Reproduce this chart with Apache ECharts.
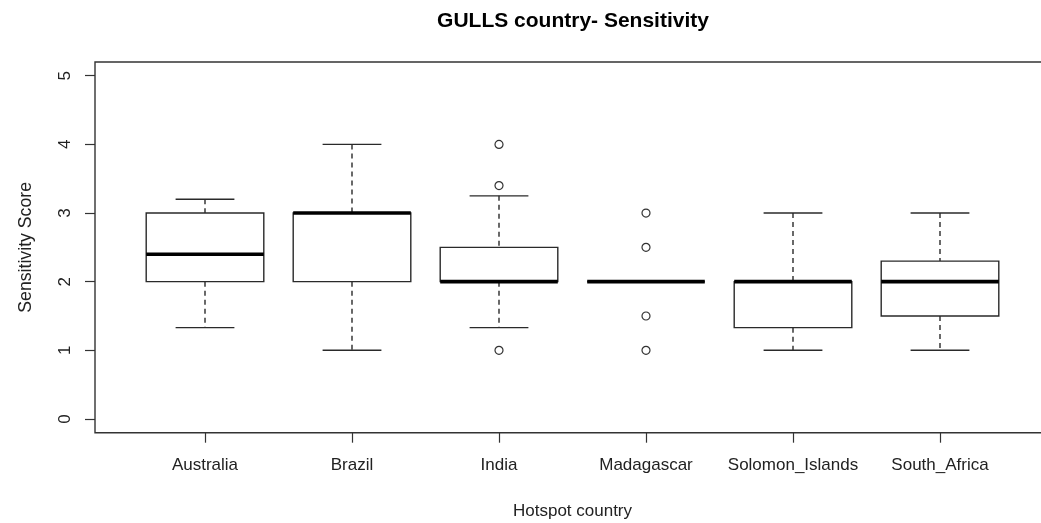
<!DOCTYPE html>
<html>
<head>
<meta charset="utf-8">
<script src="https://cdn.jsdelivr.net/npm/echarts@6/dist/echarts.min.js"></script>
<style>html,body{margin:0;padding:0;background:#fff;}#c{width:1041px;height:523px;}</style>
</head>
<body>
<div id="c"></div>
<script>
const categories = ['Australia', 'Brazil', 'India', 'Madagascar', 'Solomon_Islands', 'South_Africa'];
const lowerWhisker = [1.33, 1, 1.33, 2, 1, 1];
const q1 = [2, 2, 2, 2, 1.33, 1.5];
const median = [2.4, 3, 2, 2, 2, 2];
const q3 = [3, 3, 2.5, 2, 2, 2.3];
const upperWhisker = [3.2, 4, 3.25, 2, 3, 3];
const outlierCategory = ['India', 'India', 'India', 'Madagascar', 'Madagascar', 'Madagascar', 'Madagascar'];
const outlierValue = [4, 3.4, 1, 3, 2.5, 1.5, 1];
const yTicks = [0, 1, 2, 3, 4, 5];

const boxData = categories.map((c, i) => [i, lowerWhisker[i], q1[i], median[i], q3[i], upperWhisker[i]]);
const outlierData = outlierCategory.map((c, i) => [categories.indexOf(c), outlierValue[i]]);

const FONT = 'Liberation Sans, Arial, sans-serif';
const chart = echarts.init(document.getElementById('c'), null, {renderer: 'canvas'});

function renderBox(params, api) {
  const idx = api.value(0);
  const band = api.size([1, 0])[0];
  const hb = band * 0.4, hc = band * 0.2;
  const pLow = api.coord([idx, api.value(1)]);
  const pQ1 = api.coord([idx, api.value(2)]);
  const pMed = api.coord([idx, api.value(3)]);
  const pQ3 = api.coord([idx, api.value(4)]);
  const pHigh = api.coord([idx, api.value(5)]);
  const cx = pMed[0];
  const stroke = '#2a2a2a';
  const lw = 1.4;
  return {
    type: 'group',
    children: [
      {type: 'line', shape: {x1: cx, y1: pHigh[1], x2: cx, y2: pQ3[1]}, style: {stroke, lineWidth: lw, lineDash: [5, 4]}},
      {type: 'line', shape: {x1: cx, y1: pQ1[1], x2: cx, y2: pLow[1]}, style: {stroke, lineWidth: lw, lineDash: [5, 4]}},
      {type: 'line', shape: {x1: cx - hc, y1: pHigh[1], x2: cx + hc, y2: pHigh[1]}, style: {stroke, lineWidth: lw}},
      {type: 'line', shape: {x1: cx - hc, y1: pLow[1], x2: cx + hc, y2: pLow[1]}, style: {stroke, lineWidth: lw}},
      {type: 'rect', shape: {x: cx - hb, y: pQ3[1], width: 2 * hb, height: pQ1[1] - pQ3[1]}, style: {fill: '#fff', stroke, lineWidth: lw}},
      {type: 'line', shape: {x1: cx - hb, y1: pMed[1], x2: cx + hb, y2: pMed[1]}, style: {stroke: '#000', lineWidth: 3.6}}
    ]
  };
}

const option = {
  animation: false,
  backgroundColor: '#fff',
  title: {
    text: 'GULLS country- Sensitivity',
    left: 568, top: 6, textAlign: 'center',
    textStyle: {fontFamily: FONT, fontSize: 21, fontWeight: 'bold', color: '#000'}
  },
  grid: [
    {left: 95, top: 62, width: 954, height: 370.7, show: true, borderColor: '#333', borderWidth: 1.4, backgroundColor: 'transparent', containLabel: false, outerBoundsMode: 'none'},
    {left: 131.5, top: 62, width: 882, height: 370.7, show: false, containLabel: false, outerBoundsMode: 'none'}
  ],
  xAxis: [
    {gridIndex: 0, type: 'value', min: 0, max: 1, show: false},
    {
      gridIndex: 1, type: 'category', data: categories, boundaryGap: true,
      name: 'Hotspot country', nameLocation: 'middle', nameGap: 70,
      nameTextStyle: {fontFamily: FONT, fontSize: 17, color: '#222'},
      axisLine: {show: false, onZero: false},
      axisTick: {show: true, alignWithLabel: true, length: 10, lineStyle: {color: '#333', width: 1.2}},
      axisLabel: {fontFamily: FONT, fontSize: 17, color: '#222', margin: 24, interval: 0},
      splitLine: {show: false}
    }
  ],
  yAxis: [
    {gridIndex: 0, type: 'value', min: 0, max: 1, show: false},
    {
      gridIndex: 1, type: 'value', min: -0.2, max: 5.2,
      offset: 36.5,
      name: 'Sensitivity Score', nameLocation: 'middle', nameGap: 60,
      nameTextStyle: {fontFamily: FONT, fontSize: 17.7, color: '#222'},
      axisLine: {show: false, onZero: false},
      axisTick: {show: true, length: 10, customValues: yTicks, lineStyle: {color: '#333', width: 1.2}},
      axisLabel: {fontFamily: FONT, fontSize: 17, color: '#222', rotate: 90, margin: 21, customValues: yTicks},
      splitLine: {show: false}
    }
  ],
  series: [
    {
      type: 'custom', xAxisIndex: 1, yAxisIndex: 1,
      renderItem: renderBox,
      encode: {x: 0, y: [1, 2, 3, 4, 5]},
      data: boxData, z: 2
    },
    {
      type: 'scatter', xAxisIndex: 1, yAxisIndex: 1,
      symbol: 'circle', symbolSize: 8,
      itemStyle: {color: '#fff', borderColor: '#333', borderWidth: 1.2, opacity: 1},
      data: outlierData, z: 3
    }
  ]
};
chart.setOption(option);
</script>
</body>
</html>
